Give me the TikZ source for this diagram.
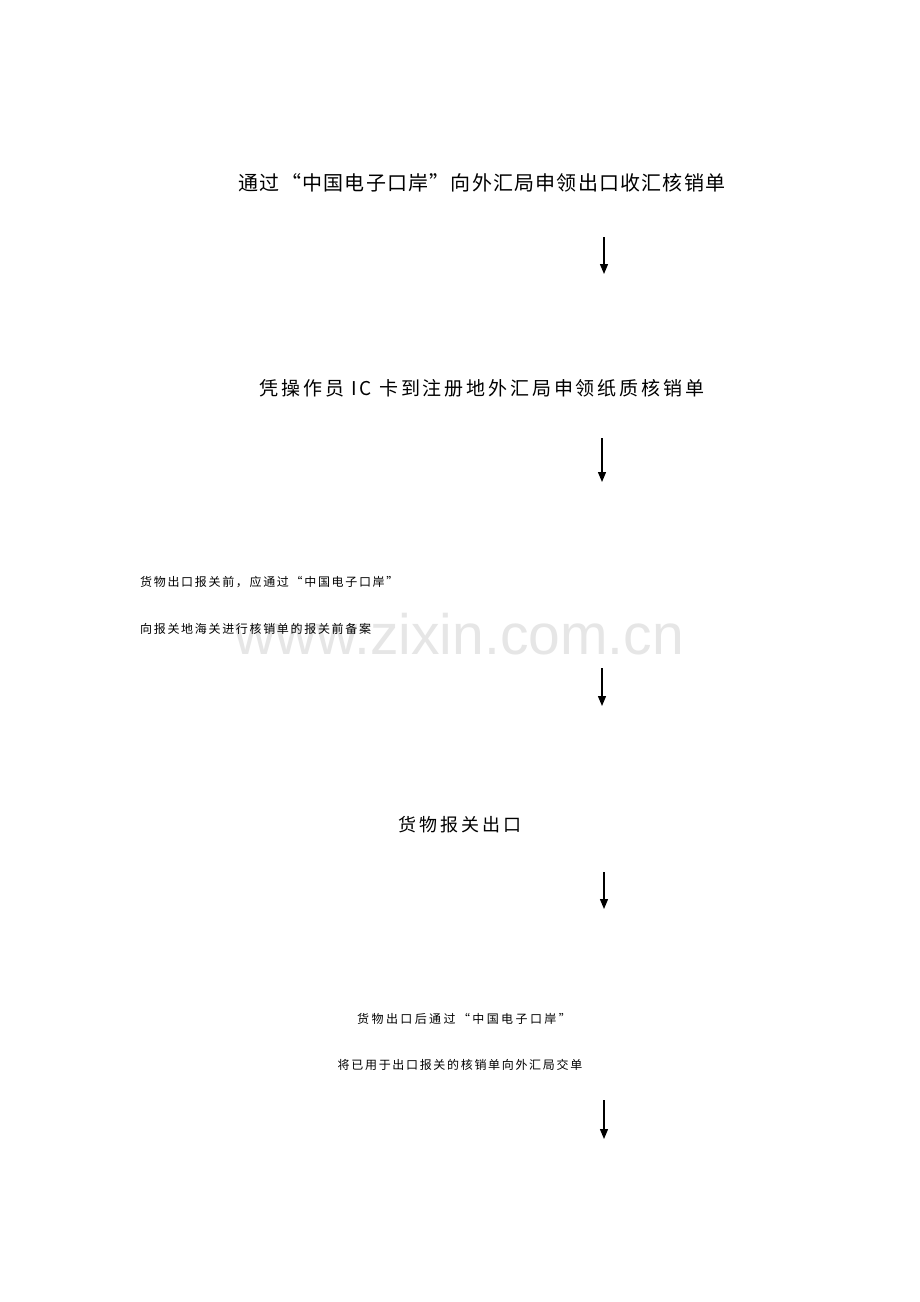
\documentclass[tikz,border=0pt]{standalone}
\usepackage{fontspec}
\newfontfamily\cjk{Noto Sans CJK SC}
\newfontfamily\wmfont{Liberation Sans}
\usetikzlibrary{arrows.meta}
\definecolor{wmgray}{HTML}{E6E6E6}
\tikzset{
  bigtext/.style={inner sep=0pt, font=\cjk\fontsize{20}{24}\selectfont\addfontfeature{LetterSpace=6}},
  midtext/.style={inner sep=0pt, font=\cjk\fontsize{19}{23}\selectfont\addfontfeature{LetterSpace=15}},
  smalltext/.style={inner sep=0pt, font=\cjk\fontsize{12}{14}\selectfont\addfontfeature{LetterSpace=14}},
  flowarrow/.style={line width=1.3pt, -{Triangle[length=10pt,width=8pt]}},
}
\begin{document}
\begin{tikzpicture}[x=1pt,y=1pt]
\useasboundingbox[fill=white] (0,0) rectangle (920,-1302);
% watermark
\node[inner sep=0pt, text=wmgray, font=\wmfont\fontsize{57}{60}\selectfont] (wm) at (459,-634) {www.zixin.com.cn};
% texts
\node[bigtext] (t1) at (482,-183) {通过“中国电子口岸”向外汇局申领出口收汇核销单};
\node[midtext] (t2) at (482,-388) {凭操作员 IC 卡到注册地外汇局申领纸质核销单};
\node[smalltext, anchor=west] (t3a) at (140,-582) {货物出口报关前，应通过“中国电子口岸”};
\node[smalltext, anchor=west] (t3b) at (140,-629) {向报关地海关进行核销单的报关前备案};
\node[midtext, font=\cjk\fontsize{18}{22}\selectfont\addfontfeature{LetterSpace=17}] (t4) at (460,-825) {货物报关出口};
\node[smalltext, font=\cjk\fontsize{12}{14}\selectfont\addfontfeature{LetterSpace=20}] (t5a) at (464,-1019) {货物出口后通过“中国电子口岸”};
\node[smalltext] (t5b) at (460,-1065) {将已用于出口报关的核销单向外汇局交单};
% arrows
\coordinate (a1s) at (604,-237); \coordinate (a1e) at (604,-274);
\coordinate (a2s) at (602,-438); \coordinate (a2e) at (602,-482);
\coordinate (a3s) at (602,-668); \coordinate (a3e) at (602,-706);
\coordinate (a4s) at (604,-872); \coordinate (a4e) at (604,-909);
\coordinate (a5s) at (604,-1100); \coordinate (a5e) at (604,-1139);
\draw[flowarrow] (a1s) -- (a1e);
\draw[flowarrow] (a2s) -- (a2e);
\draw[flowarrow] (a3s) -- (a3e);
\draw[flowarrow] (a4s) -- (a4e);
\draw[flowarrow] (a5s) -- (a5e);
\end{tikzpicture}
\end{document}
